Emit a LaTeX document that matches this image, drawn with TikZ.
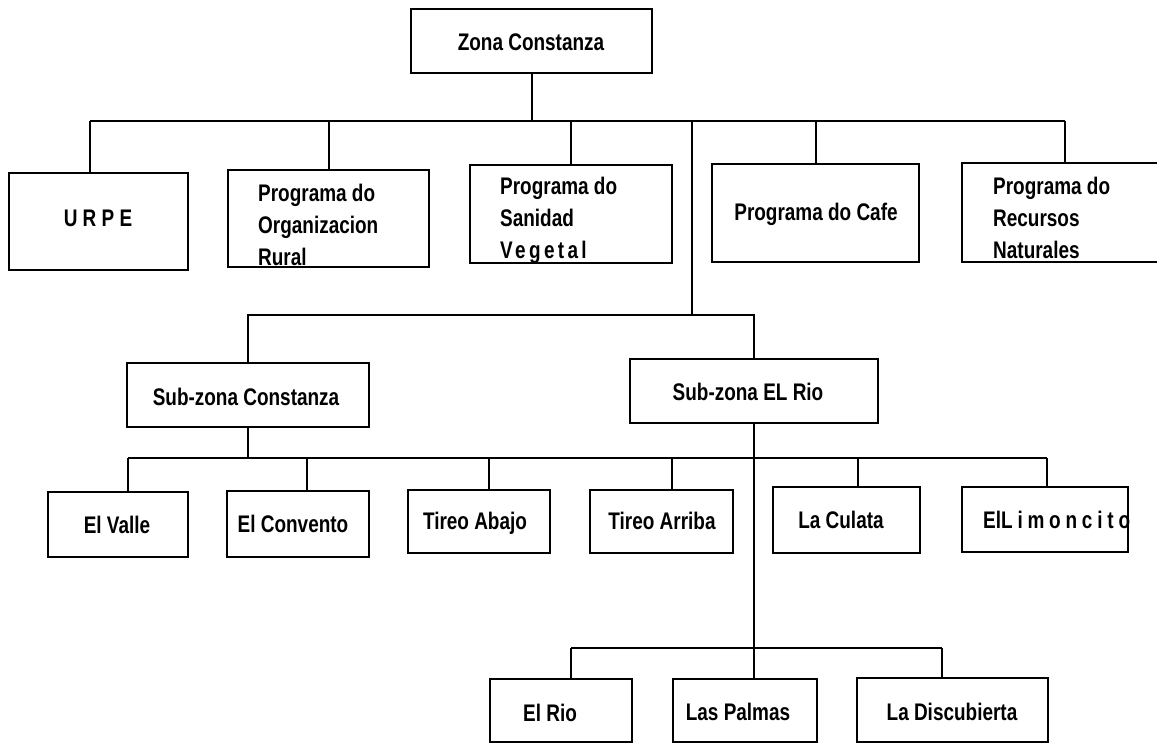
\documentclass[tikz,border=0pt]{standalone}
\usepackage{fontspec}
\setmainfont{Liberation Sans}[FakeStretch=0.79]
\newfontfamily\spacedA{Liberation Sans}[FakeStretch=0.79,LetterSpace=14]
\newfontfamily\spacedB{Liberation Sans}[FakeStretch=0.79,LetterSpace=20]
\usetikzlibrary{calc}
\tikzset{
  box/.style={draw=black, line width=1.6pt, inner sep=0pt, fill=none},
  txt/.style={inner sep=0pt, font=\fontsize{24}{32}\selectfont\bfseries, align=left},
  one/.style={txt, text height=17.4pt, text depth=0pt},
  conn/.style={draw=black, line width=2pt}
}
\begin{document}
\begin{tikzpicture}[x=1pt,y=-1pt]
\useasboundingbox (0,0) rectangle (1157,746);
% ---- boxes
\node[box, minimum width=241pt, minimum height=64pt] (zona) at (531.5,41) {};
\node[box, minimum width=179pt, minimum height=97pt] (urpe) at (98.5,221.5) {};
\node[box, minimum width=201pt, minimum height=97pt] (org) at (328.5,218.5) {};
\node[box, minimum width=202pt, minimum height=98pt] (san) at (571,214) {};
\node[box, minimum width=207pt, minimum height=98pt] (cafe) at (815.5,213) {};
\node[box, minimum width=206pt, minimum height=99pt] (rec) at (1065,212.5) {};
\node[box, minimum width=242pt, minimum height=64pt] (subc) at (248,395) {};
\node[box, minimum width=248pt, minimum height=64pt] (subr) at (754,391) {};
\node[box, minimum width=140pt, minimum height=65pt] (valle) at (118,524.5) {};
\node[box, minimum width=142pt, minimum height=66pt] (conv) at (298,524) {};
\node[box, minimum width=142pt, minimum height=63pt] (tab) at (479,521.5) {};
\node[box, minimum width=143pt, minimum height=63pt] (tarr) at (661.5,521.5) {};
\node[box, minimum width=147pt, minimum height=66pt] (cul) at (846.5,520) {};
\node[box, minimum width=166pt, minimum height=65pt] (lim) at (1045,519.5) {};
\node[box, minimum width=142pt, minimum height=63pt] (rio) at (561,710.5) {};
\node[box, minimum width=144pt, minimum height=63pt] (pal) at (745,710.5) {};
\node[box, minimum width=191pt, minimum height=64pt] (disc) at (952.5,710) {};
% ---- texts
\node[one] (zonat) at (531,42) {Zona Constanza};
\node[one] (urpet) at (98,218) {U R P E};
\node[txt, anchor=west] (orgt) at (258,225) {Programa do\\Organizacion\\Rural};
\node[txt, anchor=west] (sant) at (500,220) {Programa do\\Sanidad\\{\spacedA\bfseries Vegetal}};
\node[one] (cafet) at (816,212) {Programa do Cafe};
\node[txt, anchor=west] (rect) at (993,218) {Programa do\\Recursos\\Naturales};
\node[one] (subct) at (246,397) {Sub-zona Constanza};
\node[one] (subrt) at (748,392) {Sub-zona EL Rio};
\node[one] (vallet) at (117,525) {El Valle};
\node[one] (convt) at (293,524) {El Convento};
\node[one] (tabt) at (475,521) {Tireo Abajo};
\node[one] (tarrt) at (662,521) {Tireo Arriba};
\node[one] (cult) at (841,520) {La Culata};
\node[one, anchor=west] (limt) at (983,520) {El{\spacedB\bfseries Limoncito}};
\node[one] (riot) at (550,713) {El Rio};
\node[one] (palt) at (738,712) {Las Palmas};
\node[one] (disct) at (952,712) {La Discubierta};
% ---- junctions
\coordinate (b1L) at (90,121);
\coordinate (b1R) at (1065,121);
\coordinate (b1M) at (692,121);
\coordinate (b2M) at (692,315);
\coordinate (b3L) at (128,458);
\coordinate (b3R) at (1047,458);
\coordinate (d3b) at (307,458);
\coordinate (d3c) at (489,458);
\coordinate (d3d) at (672,458);
\coordinate (d3e) at (858,458);
\coordinate (b4L) at (571,648);
\coordinate (b4R) at (942,648);
% ---- connectors level 1
\draw[conn] (zona.south) -- (zona.south |- b1L);
\draw[conn] (b1L) -- (b1R);
\draw[conn] (b1L) -- (b1L |- urpe.north);
\draw[conn] (org.north |- b1L) -- (org.north);
\draw[conn] (san.north |- b1L) -- (san.north);
\draw[conn] (cafe.north |- b1L) -- (cafe.north);
\draw[conn] (b1R) -- (rec.north);
\draw[conn] (b1M) -- (b2M);
% ---- level 2
\draw[conn] (subc.north) -- (subc.north |- b2M) -- (subr.north |- b2M) -- (subr.north);
% ---- level 3
\draw[conn] (subc.south) -- (subc.south |- b3L);
\draw[conn] (b3L) -- (b3R);
\draw[conn] (b3L) -- (b3L |- valle.north);
\draw[conn] (d3b) -- (d3b |- conv.north);
\draw[conn] (d3c) -- (d3c |- tab.north);
\draw[conn] (d3d) -- (d3d |- tarr.north);
\draw[conn] (d3e) -- (d3e |- cul.north);
\draw[conn] (b3R) -- (b3R |- lim.north);
% ---- level 4
\draw[conn] (subr.south) -- (subr.south |- pal.north);
\draw[conn] (b4L) -- (b4R);
\draw[conn] (b4L) -- (b4L |- rio.north);
\draw[conn] (b4R) -- (b4R |- disc.north);
\end{tikzpicture}
\end{document}
